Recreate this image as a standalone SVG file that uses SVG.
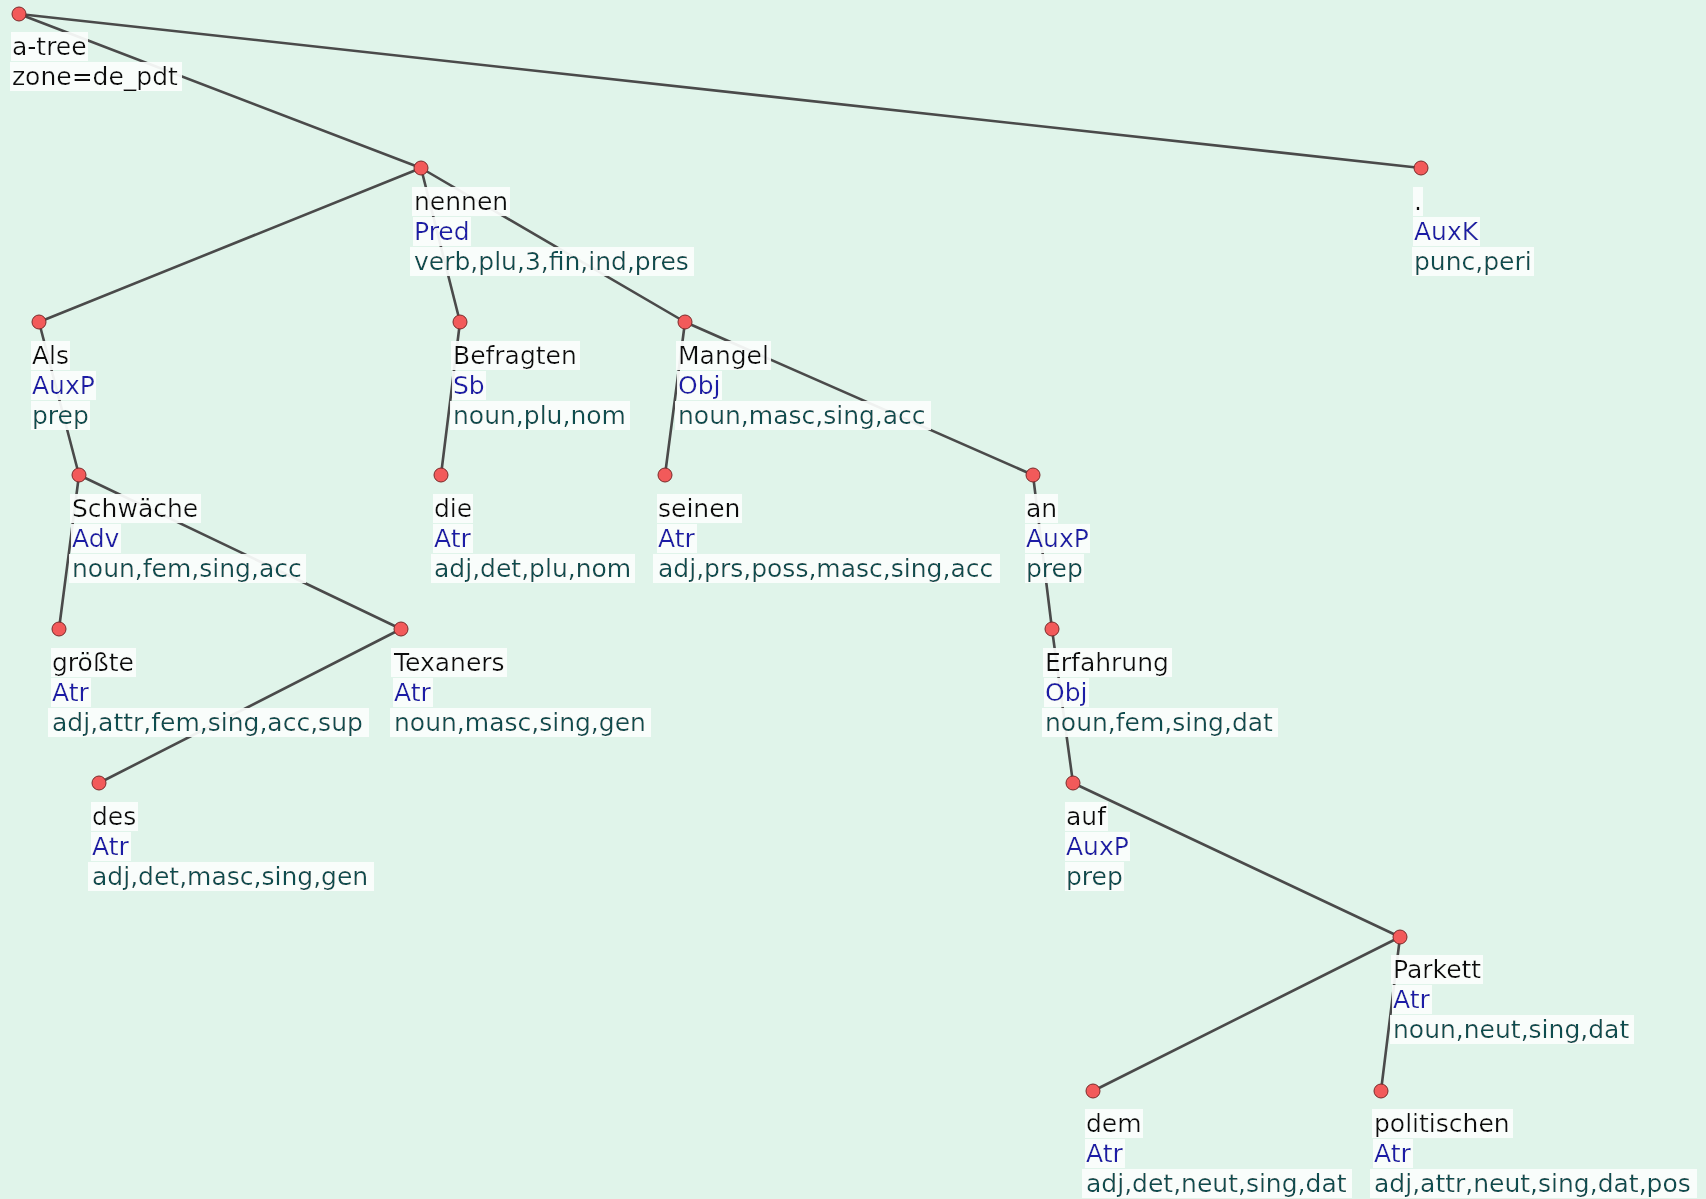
<svg xmlns="http://www.w3.org/2000/svg" width="1706" height="1199" viewBox="0 0 1706 1199">
<style>
  text { font-family: "DejaVu Sans", Verdana, sans-serif; font-size: 25px; filter: url(#bx); }
  .w { fill: #111111; }
  .f { fill: #1a1aa6; }
  .t { fill: #0c4d4f; }
  .edge { stroke: #4a4a4a; stroke-width: 2.6; fill: none; stroke-linecap: round; }
  .nd { fill: #f25a5a; stroke: #7a2a2a; stroke-width: 1; }
</style>
<defs>
  <filter id="bx" x="-0.012" y="0" width="1.03" height="1">
    <feFlood flood-color="#fbfefc" flood-opacity="0.93" result="bg"/>
    <feMerge><feMergeNode in="bg"/><feMergeNode in="SourceGraphic"/></feMerge>
  </filter>
</defs>
<rect x="0" y="0" width="1706" height="1199" fill="#e0f4ea"/>
<g id="connectors">
  <line class="edge" x1="19" y1="14" x2="421" y2="168"/>
  <line class="edge" x1="19" y1="14" x2="1421" y2="168"/>
  <line class="edge" x1="421" y1="168" x2="39" y2="322"/>
  <line class="edge" x1="421" y1="168" x2="460" y2="322"/>
  <line class="edge" x1="421" y1="168" x2="685" y2="322"/>
  <line class="edge" x1="39" y1="322" x2="79" y2="475"/>
  <line class="edge" x1="460" y1="322" x2="441" y2="475"/>
  <line class="edge" x1="685" y1="322" x2="665" y2="475"/>
  <line class="edge" x1="685" y1="322" x2="1033" y2="475"/>
  <line class="edge" x1="79" y1="475" x2="59" y2="629"/>
  <line class="edge" x1="79" y1="475" x2="401" y2="629"/>
  <line class="edge" x1="401" y1="629" x2="99" y2="783"/>
  <line class="edge" x1="1033" y1="475" x2="1052" y2="629"/>
  <line class="edge" x1="1052" y1="629" x2="1073" y2="783"/>
  <line class="edge" x1="1073" y1="783" x2="1400" y2="937"/>
  <line class="edge" x1="1400" y1="937" x2="1093" y2="1091"/>
  <line class="edge" x1="1400" y1="937" x2="1381" y2="1091"/>
</g>
<g id="root">
  <text class="w" x="12" y="55">a-tree</text>
  <text class="w" x="12" y="85">zone=de_pdt</text>
  <circle class="nd" cx="19" cy="14" r="7"/>
</g>
<g id="n-nennen">
  <text class="w" x="414" y="210">nennen</text>
  <text class="f" x="414" y="240">Pred</text>
  <text class="t" x="414" y="270">verb,plu,3,fin,ind,pres</text>
  <circle class="nd" cx="421" cy="168" r="7"/>
</g>
<g id="n-period">
  <text class="w" x="1414" y="210">.</text>
  <text class="f" x="1414" y="240">AuxK</text>
  <text class="t" x="1414" y="270">punc,peri</text>
  <circle class="nd" cx="1421" cy="168" r="7"/>
</g>
<g id="n-als">
  <text class="w" x="32" y="364">Als</text>
  <text class="f" x="32" y="394">AuxP</text>
  <text class="t" x="32" y="424">prep</text>
  <circle class="nd" cx="39" cy="322" r="7"/>
</g>
<g id="n-befragten">
  <text class="w" x="453" y="364">Befragten</text>
  <text class="f" x="453" y="394">Sb</text>
  <text class="t" x="453" y="424">noun,plu,nom</text>
  <circle class="nd" cx="460" cy="322" r="7"/>
</g>
<g id="n-mangel">
  <text class="w" x="678" y="364">Mangel</text>
  <text class="f" x="678" y="394">Obj</text>
  <text class="t" x="678" y="424">noun,masc,sing,acc</text>
  <circle class="nd" cx="685" cy="322" r="7"/>
</g>
<g id="n-schwaeche">
  <text class="w" x="72" y="517">Schwäche</text>
  <text class="f" x="72" y="547">Adv</text>
  <text class="t" x="72" y="577">noun,fem,sing,acc</text>
  <circle class="nd" cx="79" cy="475" r="7"/>
</g>
<g id="n-die">
  <text class="w" x="434" y="517">die</text>
  <text class="f" x="434" y="547">Atr</text>
  <text class="t" x="434" y="577">adj,det,plu,nom</text>
  <circle class="nd" cx="441" cy="475" r="7"/>
</g>
<g id="n-seinen">
  <text class="w" x="658" y="517">seinen</text>
  <text class="f" x="658" y="547">Atr</text>
  <text class="t" x="658" y="577">adj,prs,poss,masc,sing,acc</text>
  <circle class="nd" cx="665" cy="475" r="7"/>
</g>
<g id="n-an">
  <text class="w" x="1026" y="517">an</text>
  <text class="f" x="1026" y="547">AuxP</text>
  <text class="t" x="1026" y="577">prep</text>
  <circle class="nd" cx="1033" cy="475" r="7"/>
</g>
<g id="n-groesste">
  <text class="w" x="52" y="671">größte</text>
  <text class="f" x="52" y="701">Atr</text>
  <text class="t" x="52" y="731">adj,attr,fem,sing,acc,sup</text>
  <circle class="nd" cx="59" cy="629" r="7"/>
</g>
<g id="n-texaners">
  <text class="w" x="394" y="671">Texaners</text>
  <text class="f" x="394" y="701">Atr</text>
  <text class="t" x="394" y="731">noun,masc,sing,gen</text>
  <circle class="nd" cx="401" cy="629" r="7"/>
</g>
<g id="n-erfahrung">
  <text class="w" x="1045" y="671">Erfahrung</text>
  <text class="f" x="1045" y="701">Obj</text>
  <text class="t" x="1045" y="731">noun,fem,sing,dat</text>
  <circle class="nd" cx="1052" cy="629" r="7"/>
</g>
<g id="n-des">
  <text class="w" x="92" y="825">des</text>
  <text class="f" x="92" y="855">Atr</text>
  <text class="t" x="92" y="885">adj,det,masc,sing,gen</text>
  <circle class="nd" cx="99" cy="783" r="7"/>
</g>
<g id="n-auf">
  <text class="w" x="1066" y="825">auf</text>
  <text class="f" x="1066" y="855">AuxP</text>
  <text class="t" x="1066" y="885">prep</text>
  <circle class="nd" cx="1073" cy="783" r="7"/>
</g>
<g id="n-parkett">
  <text class="w" x="1393" y="978">Parkett</text>
  <text class="f" x="1393" y="1008">Atr</text>
  <text class="t" x="1393" y="1038">noun,neut,sing,dat</text>
  <circle class="nd" cx="1400" cy="937" r="7"/>
</g>
<g id="n-dem">
  <text class="w" x="1086" y="1132">dem</text>
  <text class="f" x="1086" y="1162">Atr</text>
  <text class="t" x="1086" y="1192">adj,det,neut,sing,dat</text>
  <circle class="nd" cx="1093" cy="1091" r="7"/>
</g>
<g id="n-politischen">
  <text class="w" x="1374" y="1132">politischen</text>
  <text class="f" x="1374" y="1162">Atr</text>
  <text class="t" x="1374" y="1192">adj,attr,neut,sing,dat,pos</text>
  <circle class="nd" cx="1381" cy="1091" r="7"/>
</g>
</svg>
